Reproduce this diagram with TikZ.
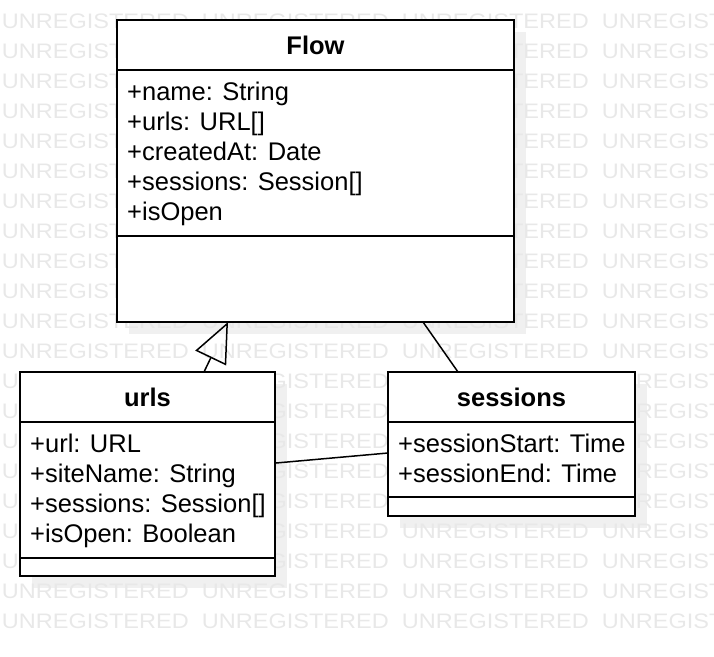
\documentclass[tikz,border=0pt]{standalone}
\usepackage{fontspec}
\setmainfont{Liberation Sans}
\usetikzlibrary{arrows.meta}
\begin{document}
\begin{tikzpicture}[x=1pt,y=-1pt,
  box/.style={draw=black, line width=2pt, fill=white, anchor=north west, inner sep=0pt, outer sep=0pt},
  shadowbox/.style={fill=black!6, draw=none},
  sepline/.style={line width=2pt},
  attr/.style={anchor=base west, inner sep=0pt, font=\fontsize{25.5}{30}\selectfont},
  ttl/.style={anchor=base, inner sep=0pt, font=\fontsize{25.5}{30}\selectfont\bfseries},
  wm/.style={anchor=base west, inner sep=0pt, text=black!9, xscale=1.12, font=\fontsize{21}{25}\selectfont},
  conn/.style={line width=1.5pt},
  gen/.style={line width=1.5pt, -{Triangle[open, length=40pt, width=34pt, line width=1.5pt]}}
]
\useasboundingbox (0,0) rectangle (714,656);
% shadows
\fill[shadowbox] (129,32) rectangle (526,334);
\fill[shadowbox] (32,384) rectangle (287,588);
\fill[shadowbox] (400,384) rectangle (647,528);
% watermark
\begin{scope}
\clip (0,0) rectangle (714,656);
\foreach \r in {0,...,20}{
  \foreach \c in {0,...,3}{
    \node[wm] (wm-\r-\c) at ({1.7+200*\c},{28.5+30*\r}) {UNREGISTERED};
  }
}
\end{scope}
% Flow
\node[box, minimum width=397pt, minimum height=302pt] (flow) at (117,20) {};
\draw[sepline] (117,70) -- (514,70);
\draw[sepline] (117,236) -- (514,236);
\node[ttl] (flowT) at (315.5,54) {Flow};
\node[attr] (f1) at (127,100) {+name: String};
\node[attr] (f2) at (127,130) {+urls: URL[]};
\node[attr] (f3) at (127,160) {+createdAt: Date};
\node[attr] (f4) at (127,190) {+sessions: Session[]};
\node[attr] (f5) at (127,220) {+isOpen};
% urls
\node[box, minimum width=255pt, minimum height=204pt] (urls) at (20,372) {};
\draw[sepline] (20,422) -- (275,422);
\draw[sepline] (20,558) -- (275,558);
\node[ttl] (urlsT) at (147.5,406) {urls};
\node[attr] (u1) at (30,452) {+url: URL};
\node[attr] (u2) at (30,482) {+siteName: String};
\node[attr] (u3) at (30,512) {+sessions: Session[]};
\node[attr] (u4) at (30,542) {+isOpen: Boolean};
% sessions
\node[box, minimum width=247pt, minimum height=144pt] (sessions) at (388,372) {};
\draw[sepline] (388,422) -- (635,422);
\draw[sepline] (388,497) -- (635,497);
\node[ttl] (sessT) at (511.5,406) {sessions};
\node[attr] (s1) at (398,452) {+sessionStart: Time};
\node[attr] (s2) at (398,482) {+sessionEnd: Time};
% connectors
\coordinate (g1) at (204,372);
\coordinate (g2) at (228,322);
\draw[gen] (g1) -- (g2);
\coordinate (a1) at (423,322);
\coordinate (a2) at (458,372);
\draw[conn] (a1) -- (a2);
\coordinate (b1) at (276,463);
\coordinate (b2) at (388,453);
\draw[conn] (b1) -- (b2);
\end{tikzpicture}
\end{document}
